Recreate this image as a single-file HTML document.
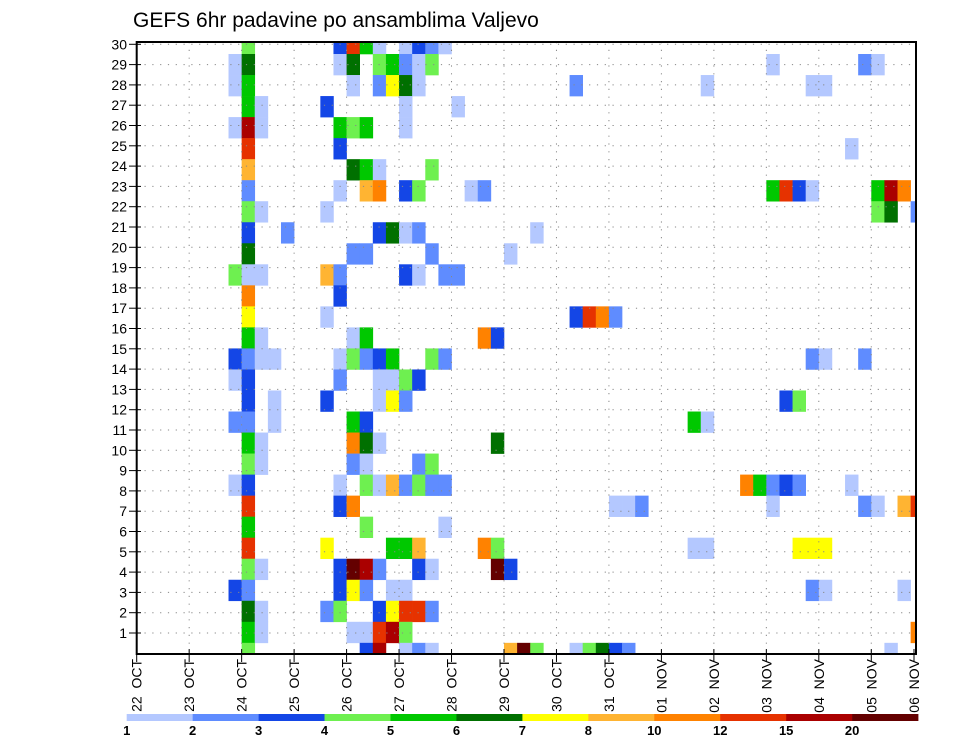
<!DOCTYPE html>
<html><head><meta charset="utf-8"><style>
body{margin:0;background:#fff;}
svg{display:block;font-family:"Liberation Sans",sans-serif;}
</style></head><body>
<svg id="chart" width="960" height="742" viewBox="0 0 960 742">
<text x="133" y="27" font-size="21" fill="#000">GEFS 6hr padavine po ansamblima Valjevo</text>
<g id="cells"></g>
<g id="grid"></g>
<rect x="136.7" y="42" width="779.3" height="612" fill="none" stroke="#000" stroke-width="2"/>
<g id="yaxis"></g>
<g id="xaxis"></g>
<g id="legend"></g>
</svg>
<script>
// Time-axis day labels (x axis)
const dayLabels = ["22 OCT","23 OCT","24 OCT","25 OCT","26 OCT","27 OCT","28 OCT","29 OCT","30 OCT","31 OCT","01 NOV","02 NOV","03 NOV","04 NOV","05 NOV","06 NOV"];
// Member labels (y axis)
const memberLabels = [1,2,3,4,5,6,7,8,9,10,11,12,13,14,15,16,17,18,19,20,21,22,23,24,25,26,27,28,29,30];
// Legend thresholds (mm / 6hr)
const levelBounds = [1,2,3,4,5,6,7,8,10,12,15,20];
const levelColors = ["#b4c8ff","#5f8cff","#1446e6","#6ef050","#00c800","#007000","#ffff00","#ffb432","#ff8200","#e63200","#aa0000","#640000"];
// Precip per row (top row first): each entry "timeIndex:value" (time index = 6hr steps from 22 OCT 00Z)
const row00 = ["8:4.5","15:3.5","16:13","17:5.5","18:1.5","20:1.5","21:3.5","22:2.5","23:1.5"];
const row01 = ["7:1.5","8:6.5","15:1.5","16:6.5","18:4.5","19:5.5","20:2.5","21:1.5","22:4.5","48:1.5","55:2.5","56:1.5"];
const row02 = ["7:1.5","8:5.5","16:1.5","18:2.5","19:7.5","20:6.5","21:1.5","33:2.5","43:1.5","51:1.5","52:1.5"];
const row03 = ["8:5.5","9:1.5","14:3.5","20:1.5","24:1.5"];
const row04 = ["7:1.5","8:17","9:1.5","15:5.5","16:4.5","17:5.5","20:1.5"];
const row05 = ["8:13","15:3.5","54:1.5"];
const row06 = ["8:9","16:6.5","17:5.5","18:1.5","22:4.5"];
const row07 = ["8:2.5","15:1.5","17:9","18:11","20:3.5","21:4.5","25:1.5","26:2.5","48:5.5","49:13","50:3.5","51:1.5","56:5.5","57:17","58:11"];
const row08 = ["8:4.5","9:1.5","14:1.5","56:4.5","57:6.5","59:2.5"];
const row09 = ["8:3.5","11:2.5","18:3.5","19:6.5","20:1.5","21:2.5","30:1.5"];
const row10 = ["8:6.5","16:2.5","17:2.5","22:2.5","28:1.5"];
const row11 = ["7:4.5","8:1.5","9:1.5","14:9","15:2.5","20:3.5","21:1.5","23:2.5","24:2.5"];
const row12 = ["8:11","15:3.5"];
const row13 = ["8:7.5","14:1.5","33:3.5","34:13","35:11","36:2.5"];
const row14 = ["8:5.5","9:1.5","16:1.5","17:5.5","26:11","27:3.5"];
const row15 = ["7:3.5","8:2.5","9:1.5","10:1.5","15:1.5","16:4.5","17:2.5","18:3.5","19:5.5","22:4.5","23:2.5","51:2.5","52:1.5","55:2.5"];
const row16 = ["7:1.5","8:3.5","15:2.5","18:1.5","19:1.5","20:4.5","21:3.5"];
const row17 = ["8:3.5","10:1.5","14:3.5","18:1.5","19:7.5","20:2.5","49:3.5","50:4.5"];
const row18 = ["7:2.5","8:2.5","10:1.5","16:5.5","17:3.5","42:5.5","43:1.5"];
const row19 = ["8:5.5","9:1.5","16:11","17:6.5","18:1.5","27:6.5"];
const row20 = ["8:4.5","9:1.5","16:2.5","17:1.5","21:2.5","22:4.5"];
const row21 = ["7:1.5","8:3.5","15:1.5","17:4.5","18:1.5","19:9","20:2.5","21:4.5","22:2.5","23:2.5","46:11","47:5.5","48:2.5","49:3.5","50:2.5","54:1.5"];
const row22 = ["8:13","15:3.5","16:11","36:1.5","37:1.5","38:2.5","48:1.5","55:2.5","56:1.5","58:9","59:13"];
const row23 = ["8:5.5","17:4.5","23:1.5"];
const row24 = ["8:13","14:7.5","19:5.5","20:5.5","21:9","26:11","27:4.5","42:1.5","43:1.5","50:7.5","51:7.5","52:7.5"];
const row25 = ["8:4.5","9:1.5","15:3.5","16:22","17:17","18:2.5","21:3.5","22:1.5","27:22","28:3.5"];
const row26 = ["7:3.5","8:2.5","15:3.5","16:7.5","17:2.5","19:1.5","20:1.5","51:2.5","52:1.5","58:1.5"];
const row27 = ["8:6.5","9:1.5","14:2.5","15:4.5","18:3.5","19:7.5","20:13","21:13","22:2.5"];
const row28 = ["8:5.5","9:1.5","16:1.5","17:1.5","18:13","19:17","20:4.5","59:11"];
const row29 = ["8:4.5","17:3.5","18:17","20:1.5","21:2.5","22:1.5","28:9","29:22","30:4.5","33:1.5","34:4.5","35:6.5","36:3.5","37:2.5","57:1.5"];
const rows = [row00,row01,row02,row03,row04,row05,row06,row07,row08,row09,row10,row11,row12,row13,row14,row15,row16,row17,row18,row19,row20,row21,row22,row23,row24,row25,row26,row27,row28,row29];

const NS = "http://www.w3.org/2000/svg";
const X0 = 136.7, X1 = 916, Y0 = 42, Y1 = 654;
const DAYW = 52.47, CELLW = DAYW / 4;
const xDay = d => X0 + d * DAYW;
const xTime = t => X0 + t * CELLW;
const ROWH = 21.03;
const yRowTop = k => 54 + (k - 1) * ROWH;
const yLabel = m => 44.3 + (30 - m) * 20.3;
function colorFor(v){ let idx = 0; for (let i = 0; i < levelBounds.length; i++) if (v >= levelBounds[i]) idx = i; return levelColors[idx]; }
function mk(tag, attrs, parent){ const e = document.createElementNS(NS, tag); for (const k in attrs) e.setAttribute(k, attrs[k]); parent.appendChild(e); return e; }

const cells = document.getElementById("cells");
rows.forEach((row, k) => {
  row.forEach(s => {
    const [t, v] = s.split(":").map(Number);
    let x = xTime(t), w = CELLW;
    let y = yRowTop(k), h = ROWH;
    const xa = Math.max(x, X0), xb = Math.min(x + w, X1);
    const ya = Math.max(y, Y0), yb = Math.min(y + h, Y1);
    if (xb <= xa || yb <= ya) return;
    const r = mk("rect", {x: xa, y: ya, width: xb - xa + 0.3, height: yb - ya + 0.3, fill: colorFor(v)}, cells);
    
    
  });
});

const grid = document.getElementById("grid");
memberLabels.forEach(m => {
  const y = yLabel(m);
  const l = mk("line", {x1: X0, x2: X1, y1: y, y2: y, stroke: "#888", "stroke-width": 1, "stroke-dasharray": "1.2 6.6"}, grid);
  
  
});
dayLabels.forEach((d, i) => {
  const x = xDay(i);
  if (x <= X0 + 1 || x >= X1) return;
  const l = mk("line", {x1: x, x2: x, y1: Y0, y2: Y1, stroke: "#888", "stroke-width": 1, "stroke-dasharray": "1.2 6.6"}, grid);
  
  
});

const yaxis = document.getElementById("yaxis");
memberLabels.forEach(m => {
  const y = yLabel(m);
  const t = mk("line", {x1: 129, x2: 141, y1: y, y2: y, stroke: "#000", "stroke-width": 1}, yaxis);
  
  
  const tx = mk("text", {x: 127, y: y + 5, "font-size": 14, "text-anchor": "end"}, yaxis);
  tx.textContent = m;
  
  
});

const xaxis = document.getElementById("xaxis");
dayLabels.forEach((d, i) => {
  const x = Math.min(xDay(i), 914);
  const t = mk("line", {x1: x, x2: x, y1: 649, y2: 662, stroke: "#000", "stroke-width": 1}, xaxis);
  
  
  const tx = mk("text", {x: 0, y: 0, "font-size": 14, "text-anchor": "end", transform: `translate(${x + 5},659) rotate(-90)`}, xaxis);
  tx.textContent = d.replace(" ", "\u00a0\u00a0");
  
  
});

const legend = document.getElementById("legend");
const LX = 126.7, LW = 65.95;
levelColors.forEach((c, i) => {
  const r = mk("rect", {x: LX + i * LW, y: 714, width: LW + 0.3, height: 7, fill: c}, legend);
  
  
  const tx = mk("text", {x: LX + i * LW, y: 735, "font-size": 13, "font-weight": "bold", "text-anchor": "middle"}, legend);
  tx.textContent = levelBounds[i];
  
  
});
</script>
</body></html>
